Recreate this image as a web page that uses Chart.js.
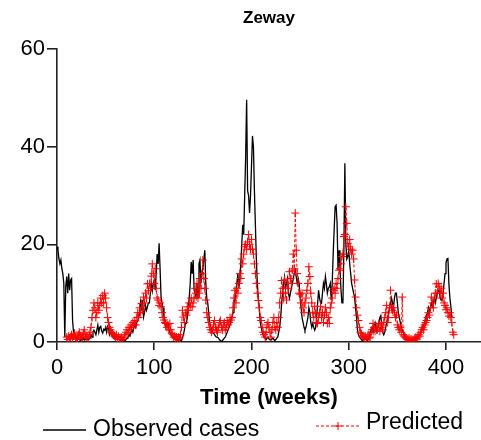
<!DOCTYPE html>
<html>
<head>
<meta charset="utf-8">
<script src="https://cdn.jsdelivr.net/npm/chart.js@4/dist/chart.umd.min.js"></script>
<style>
  html, body { margin: 0; padding: 0; background: #fff; overflow: hidden; }
  #wrap { width: 481px; height: 440px; position: relative; }
</style>
</head>
<body>
<div id="wrap"><canvas id="zewayChart"></canvas></div>
<script>
// ----------------------------------------
// Data (weekly cases)
// ----------------------------------------

const chartTitle = "Zeway";
const xTitle = "Time (weeks)";
const seriesNames = ["Observed cases", "Predicted"];
const xTicks = [0, 100, 200, 300, 400];
const yTicks = [0, 20, 40, 60];

// observed cases, week 0 onwards
const observedStart = 0;
const observed = [
    19.5, 18.8, 17, 16, 16.8, 15, 14, 12, 1, 11.3,
    13.4, 10, 14, 10.6, 12.7, 13, 4.4, 2, 1, 1,
    1, 0.5, 0.8, 0.5, 0.3, 0.6, 0.5, 0.8, 0.4, 0.6,
    0.5, 0.7, 0.4, 0.6, 0.8, 1.5, 1, 2, 2.4, 2,
    1.5, 2.5, 3.5, 2, 3, 3.2, 2.2, 1.8, 2.6, 2.4,
    3, 2, 3.2, 2.8, 1.5, 2, 1.7, 1.2, 0.8, 1,
    0.8, 1.2, 1, 0.6, 0.5, 0.3, 0.5, 0.4, 0.2, 0.3,
    0.3, 0.5, 0.8, 1, 1.5, 1.2, 2, 2.5, 2, 3,
    3.5, 3, 4, 4.4, 5, 6, 8.2, 7, 8.6, 5.1,
    6, 7.5, 6.5, 7.2, 8, 8, 10, 12, 10.5, 12,
    12.7, 10.6, 14, 18, 16, 20.2, 15, 9.2, 8, 7,
    5.1, 4.5, 3, 3.5, 3.8, 2.5, 2, 1.5, 1.2, 1,
    1, 0.8, 0.6, 0.5, 0.3, 0.5, 0.3, 0.4, 0.3, 0.8,
    1.5, 2.5, 3.8, 3.8, 5, 7, 9.2, 12, 16.4, 14,
    16.8, 10.6, 10, 9.2, 12, 9.2, 16, 16.8, 12, 14,
    15, 17, 18.8, 12, 9, 8, 6, 4, 3, 2.5,
    2, 1.8, 1.5, 1.2, 1, 1, 0.8, 0.5, 0.3, 0,
    0.3, 0.5, 0.8, 1, 1.5, 2, 2.5, 3, 3.5, 4.5,
    5, 6, 8, 9, 10, 12, 14, 11, 13, 16,
    20, 24, 22, 30, 38, 49.6, 31, 30, 26.4, 30,
    36, 42.2, 40, 31, 24, 17, 12, 9, 7, 4,
    3, 2, 1.5, 1, 0.8, 0.5, 0.8, 1, 0.6, 0.5,
    0.4, 0.6, 0.8, 0.5, 0.3, 0.5, 0.8, 1, 2, 3,
    5, 8, 10, 12, 13.3, 11, 12, 13, 10, 9,
    10, 11, 12, 13, 14, 14.7, 13.4, 12, 13, 12,
    9, 7, 5, 4, 3, 2.4, 3, 4, 5, 7,
    6, 4, 3, 3.8, 3, 2.4, 3, 5, 8, 10.6,
    9, 8, 7.9, 10, 12, 11, 13.4, 11.9, 10, 11,
    11.3, 12, 8.6, 12, 18, 23, 27.7, 28, 24.3, 14.7,
    18.8, 15, 10.7, 8, 8, 18.8, 36.6, 20.2, 17, 17.5,
    18.8, 16, 14, 12, 11, 10, 9.2, 7, 5, 2.4,
    1.5, 1, 0.8, 0.5, 0.3, 0.5, 0.8, 1, 0.5, 0.3,
    0.5, 1, 2, 2.5, 3, 2, 3.5, 4, 2.5, 2,
    3, 4, 5, 5.4, 3, 2, 1.5, 2, 3, 4,
    5, 6, 7, 8, 9, 8, 7, 9, 10, 10,
    8, 6, 5, 4, 3, 2.5, 2, 1.5, 1, 0.8,
    0.5, 0.3, 0.5, 0.3, 0.2, 0.3, 0.5, 0.3, 0.5, 0.8,
    1, 0.8, 1.2, 1.5, 2, 2.5, 3, 3.5, 4, 5,
    5.5, 6, 7, 6, 7, 8, 7.3, 8, 9, 8,
    9, 10, 10.6, 10.6, 9, 8.6, 8.6, 10, 12, 14,
    16.2, 17, 17.1, 11.9, 9, 7.3, 5
];

// model prediction, week 10 onwards
const predictedStart = 10;
const predicted = [
    1, 0.5, 1.2, 0.8, 1, 1.5, 0.8, 1.2, 1.8, 1,
    0.5, 0.8, 1.5, 2, 1.2, 0.8, 1, 1.8, 2.5, 1.5,
    1, 1.2, 0.8, 1.5, 2, 3, 5, 6.5, 8, 7,
    5, 6, 8, 6.5, 7.5, 9, 8, 9.5, 8, 10,
    9, 7, 5, 4, 3, 2.5, 2, 1.8, 1.5, 1.2,
    1, 1.5, 0.8, 1.2, 0.5, 0.8, 1, 0.6, 0.5, 1,
    1.5, 2, 2.5, 1.8, 3, 2.5, 3.5, 3, 4, 3.5,
    4.4, 3.5, 5, 6, 5, 7, 6, 7.9, 6.5, 9.2,
    8, 10, 9, 11.9, 10.5, 12, 11, 13.5, 16, 14,
    12, 15, 11, 9, 8.6, 7.5, 8, 7.2, 6, 5,
    4.5, 4, 3.8, 3, 3.5, 2.5, 3.8, 2.5, 1.8, 1.5,
    1, 1.2, 0.8, 1, 0.5, 1, 0.8, 1.5, 3, 6.5,
    5.1, 4, 6, 5.5, 7.2, 6.5, 8, 7.2, 9, 7.2,
    8, 9, 11, 10, 12, 9, 10, 13, 11, 14,
    16.8, 13, 11, 8.6, 6, 5, 4, 3, 2.5, 2,
    2.5, 3.5, 4.4, 3, 2.4, 2, 3, 4, 4.4, 3,
    2.4, 3.5, 4, 2.5, 3, 4.4, 3.5, 4, 5, 4.5,
    5, 7, 9, 10.6, 8, 11, 10, 12, 14, 13,
    17, 16, 18, 19.5, 20, 19, 20.5, 22, 20, 19,
    21, 19, 18, 16, 14, 12, 10, 8.5, 7, 5,
    4.4, 3, 2, 1.5, 1, 2, 3.5, 4, 3, 2,
    1, 2.5, 4, 5, 3, 2.5, 4, 3, 5, 8,
    10, 12.6, 11, 9, 12.7, 10, 8.6, 12, 11, 14.4,
    13, 12, 14.7, 18, 15, 26.4, 18.8, 14, 12, 10,
    9.8, 8, 10, 7, 6, 8, 9, 10.6, 12, 15.4,
    13.4, 10, 8, 6, 5, 7.3, 5.8, 4, 3.8, 5,
    6, 7.3, 5, 6, 4, 5.5, 7, 6, 3.8, 5,
    3.8, 7, 8, 9, 10.6, 11, 10, 12, 11, 13,
    14.7, 15, 16, 17.5, 18, 21.6, 22, 27.7, 24.3, 20.2,
    19.5, 21, 19, 18, 18.8, 17, 12.7, 9.2, 7, 5.5,
    4.4, 3, 2, 1.7, 1.2, 1, 0.8, 1.2, 0.6, 1,
    1.5, 0.8, 1, 2, 2.5, 3.8, 3, 2.2, 3, 2.5,
    3, 3.8, 2.2, 3, 3.5, 2.5, 4, 5, 6, 7.5,
    4, 5, 7, 10.6, 7, 6.5, 7, 6, 5, 5.5,
    3.5, 3, 2.5, 3, 2, 9.2, 1.5, 1.2, 1, 0.8,
    0.6, 0.5, 0.8, 0.4, 0.6, 0.5, 0.3, 0.5, 0.8, 1,
    0.6, 1, 1.5, 1.2, 2, 2.5, 3, 2.5, 3.5, 4,
    4.4, 5, 6, 5.5, 7, 9.2, 8, 7, 9, 10,
    11.9, 10, 12, 11.3, 10, 11, 9, 10, 8, 7.5,
    6.6, 7, 6, 5.3, 6, 5, 4, 2, 1.5
];

function toPoints(values, start) {
    return values.map((v, i) => ({ x: start + i, y: v }));
}

// ----------------------------------------
// Title + legend drawn as text on the canvas
// ----------------------------------------

const FONT = '"Liberation Sans", Arial, sans-serif';

const decorPlugin = {
    id: "decor",
    afterDraw(chart) {
        const ctx = chart.ctx;
        const area = chart.chartArea;
        ctx.save();

        // title
        ctx.fillStyle = "#000";
        ctx.font = "bold 17px " + FONT;
        ctx.textAlign = "center";
        ctx.textBaseline = "middle";
        ctx.fillText(chartTitle, (area.left + area.right) / 2, 18);

        // legend: observed
        ctx.strokeStyle = "#000";
        ctx.lineWidth = 1.3;
        ctx.setLineDash([]);
        ctx.beginPath();
        ctx.moveTo(43, 430);
        ctx.lineTo(86, 430);
        ctx.stroke();
        ctx.font = "23px " + FONT;
        ctx.textAlign = "left";
        ctx.fillText(seriesNames[0], 93, 430);

        // legend: predicted
        ctx.strokeStyle = "#ff0000";
        ctx.lineWidth = 1;
        ctx.setLineDash([3, 2]);
        ctx.beginPath();
        ctx.moveTo(316, 426);
        ctx.lineTo(360, 426);
        ctx.stroke();
        ctx.setLineDash([]);
        ctx.beginPath();
        ctx.moveTo(334, 426);
        ctx.lineTo(342, 426);
        ctx.moveTo(338, 422);
        ctx.lineTo(338, 430);
        ctx.stroke();
        ctx.fillStyle = "#000";
        ctx.fillText(seriesNames[1], 366, 423);

        ctx.restore();
    }
};

// ----------------------------------------
// Chart
// ----------------------------------------

const ctx = document.getElementById("zewayChart");

new Chart(ctx, {
    type: "line",
    data: {
        datasets: [
            {
                label: seriesNames[1],
                data: toPoints(predicted, predictedStart),
                borderColor: "#ff0000",
                backgroundColor: "#ff0000",
                borderWidth: 1,
                borderDash: [3, 2],
                pointStyle: "cross",
                pointRadius: 4,
                pointBorderWidth: 1,
                pointBorderColor: "#ff0000",
                tension: 0,
                order: 1
            },
            {
                label: seriesNames[0],
                data: toPoints(observed, observedStart),
                borderColor: "#000000",
                borderWidth: 1.3,
                pointRadius: 0,
                tension: 0,
                order: 2
            }
        ]
    },
    options: {
        responsive: true,
        maintainAspectRatio: false,
        animation: false,
        devicePixelRatio: 1,
        layout: { autoPadding: false, padding: { top: 49, right: 0, bottom: 28, left: 0 } },
        plugins: {
            legend: { display: false },
            title: { display: false },
            tooltip: { enabled: false }
        },
        scales: {
            x: {
                type: "linear",
                min: 0,
                max: 436,
                afterFit: (scale) => { scale.height = 70; },
                afterBuildTicks: (scale) => {
                    scale.ticks = xTicks.map((v) => ({ value: v }));
                },
                border: { display: true, color: "#222", width: 1.6 },
                grid: { drawOnChartArea: false, drawTicks: true, tickLength: 8, color: "#222", lineWidth: 1.6 },
                ticks: { color: "#000", font: { family: FONT, size: 22 }, padding: 5, maxRotation: 0 },
                title: {
                    display: true,
                    text: xTitle,
                    color: "#000",
                    font: { family: FONT, size: 22, weight: "bold" },
                    padding: { top: 0, bottom: 1 }
                }
            },
            y: {
                min: 0,
                max: 60,
                afterFit: (scale) => { scale.width = 57; },
                afterBuildTicks: (scale) => {
                    scale.ticks = yTicks.map((v) => ({ value: v }));
                },
                border: { display: true, color: "#222", width: 1.6 },
                grid: { drawOnChartArea: false, drawTicks: true, tickLength: 10, color: "#222", lineWidth: 1.6 },
                ticks: { color: "#000", font: { family: FONT, size: 22 }, padding: 2 }
            }
        }
    },
    plugins: [decorPlugin]
});
</script>
</body>
</html>
